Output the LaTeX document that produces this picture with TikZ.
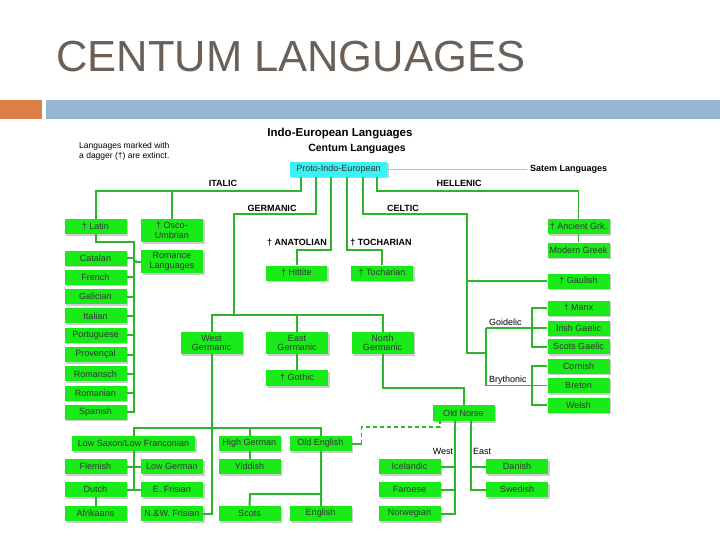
\documentclass[tikz,border=0pt]{standalone}
\usepackage{fontspec}
\setmainfont{Liberation Sans}
\usetikzlibrary{shadows,arrows.meta}
\definecolor{titlegray}{RGB}{107,96,88}
\definecolor{barorange}{RGB}{221,128,71}
\definecolor{barblue}{RGB}{148,182,210}
\definecolor{langgreen}{RGB}{25,235,25}
\definecolor{linkgreen}{RGB}{45,180,45}
\definecolor{piecyan}{RGB}{60,240,245}
\definecolor{satemline}{RGB}{240,200,20}

\begin{document}
\begin{tikzpicture}[x=1pt,y=-1pt,>=stealth,
  lang/.style={fill=langgreen,minimum width=62pt,minimum height=15pt,inner sep=1pt,
    align=center,font=\fontsize{9}{9.5}\selectfont,text=black!80,
    drop shadow={shadow xshift=1.5pt,shadow yshift=-1.5pt,fill=black!40}},
  pienode/.style={lang,fill=piecyan,minimum width=97pt},
  famlabel/.style={inner sep=0pt,font=\bfseries\fontsize{9}{9}\selectfont},
  sublabel/.style={inner sep=0pt,font=\fontsize{9}{9}\selectfont},
  link/.style={draw=linkgreen,line width=2pt},
  thinlink/.style={draw=linkgreen,line width=1.1pt}]
\useasboundingbox (0,0) rectangle (720,540);
\fill[barorange] (0,100) rectangle (42,119);
\fill[barblue] (46,100) rectangle (720,119);
\node[anchor=base west,inner sep=0pt,text=titlegray,font=\fontsize{43.5}{44}\selectfont] (title) at (56,72) {CENTUM LANGUAGES};

\node[font=\bfseries\fontsize{11.5}{12}\selectfont,inner sep=0pt] (iehead) at (340,134) {Indo-European Languages};
\node[font=\bfseries\fontsize{10.5}{11}\selectfont,inner sep=0pt] (cthead) at (357,149) {Centum Languages};
\node[anchor=north west,inner sep=0pt,align=left,font=\fontsize{8.5}{10}\selectfont] (note) at (79,142) {Languages marked with\\a dagger (†) are extinct.};

\node[pienode] (pie) at (338.5,169.5) {Proto-Indo-European};
\node[anchor=west,inner sep=0pt,font=\bfseries\fontsize{9}{9}\selectfont] (satem) at (530,169.5) {Satem Languages};
\draw[draw=satemline,line width=1.3pt] (pie.east) -- ([xshift=-3pt]pie.east -| satem.west);

\coordinate (italbend) at (301,191);
\coordinate (germbend) at (316,214);
\coordinate (germdrop) at (234,315);
\coordinate (anatbend) at (331,250);
\coordinate (tochbend) at (347,250);
\coordinate (celtbend) at (363,214);
\coordinate (celtdrop) at (467,353);
\coordinate (celtsplit) at (486,353);
\coordinate (hellbend) at (377,191);
\coordinate (latbus) at (134,242);
\coordinate (wgbus) at (211,428);
\coordinate (scotsbend) at (250,494);
\coordinate (nordlink) at (440,427);
\coordinate (nwest) at (455,421);
\coordinate (neast) at (471,421);

\node[famlabel] (italiclbl) at (223,183) {ITALIC};
\node[famlabel] (germlbl) at (272,208) {GERMANIC};
\node[famlabel] (celtlbl) at (403,208) {CELTIC};
\node[famlabel] (helllbl) at (459,183) {HELLENIC};
\node[famlabel] (anatlbl) at (297,243) {† ANATOLIAN};
\node[famlabel] (tochlbl) at (381,243) {† TOCHARIAN};
\node[sublabel,anchor=west] (goidlbl) at (489,322) {Goidelic};
\node[sublabel,anchor=west] (brytlbl) at (489,380) {Brythonic};
\node[sublabel] (westlbl) at (443,451) {West};
\node[sublabel] (eastlbl) at (482,451) {East};

\node[lang] (latin) at (95.5,226.5) {† Latin};
\node[lang,minimum height=23pt] (osco) at (172,230.5) {† Osco-\\Umbrian};
\node[lang,minimum height=23pt] (romance) at (172,261.5) {Romance\\Languages};
\foreach \nm/\txt [count=\i from 0] in {catalan/Catalan,french/French,galician/Galician,
    italian/Italian,portug/Portuguese,provencal/Provençal,romansch/Romansch,
    romanian/Romanian,spanish/Spanish}
  \node[lang] (\nm) at (95.5,258+19.3*\i) {\txt};

\node[lang,minimum width=61pt,inner sep=0pt] (hittite) at (296.5,273) {† Hittite};
\node[lang] (tochar) at (382,273) {† Tocharian};

\node[lang,minimum height=22pt] (westg) at (211.5,343) {West\\Germanic};
\node[lang,minimum height=22pt] (eastg) at (297,343) {East\\Germanic};
\node[lang,minimum height=22pt] (northg) at (382.5,343) {North\\Germanic};
\node[lang,minimum height=16pt] (gothic) at (297,378) {† Gothic};
\node[lang,minimum height=16pt] (oldnorse) at (463.5,413) {Old Norse};

\node[lang] (ancgrk) at (578.5,226.5) {† Ancient Grk.};
\node[lang] (modgrk) at (578.5,250) {Modern Greek};
\node[lang] (gaulish) at (578.5,281) {† Gaulish};
\node[lang] (manx) at (578.5,308) {† Manx};
\node[lang] (irish) at (578.5,328) {Irish Gaelic};
\node[lang] (scotsg) at (578.5,346.5) {Scots Gaelic};
\node[lang] (cornish) at (578.5,366) {Cornish};
\node[lang] (breton) at (578.5,385.5) {Breton};
\node[lang] (welsh) at (578.5,405) {Welsh};

\node[lang,minimum width=123pt] (lowsax) at (133.5,443.5) {Low Saxon/Low Franconian};
\node[lang] (higherm) at (249.5,443.5) {High German};
\node[lang] (oldeng) at (320.5,443.5) {Old English};
\node[lang] (flemish) at (95.5,466.5) {Flemish};
\node[lang] (lowgerm) at (172,466.5) {Low German};
\node[lang] (yiddish) at (249.5,466.5) {Yiddish};
\node[lang] (dutch) at (95.5,489.5) {Dutch};
\node[lang] (efris) at (172,489.5) {E. Frisian};
\node[lang] (afrik) at (95.5,513.5) {Afrikaans};
\node[lang] (nwfris) at (172,513.5) {N.\&W. Frisian};
\node[lang] (scots) at (249.5,513.5) {Scots};
\node[lang] (english) at (320.5,513.5) {English};
\node[lang] (icel) at (409.5,466.5) {Icelandic};
\node[lang] (faroe) at (409.5,489.5) {Faroese};
\node[lang] (norweg) at (409.5,513.5) {Norwegian};
\node[lang] (danish) at (517,466.5) {Danish};
\node[lang] (swed) at (517,489.5) {Swedish};

\draw[link] (pie.south -| italbend) -- (italbend) -| (latin.north);
\draw[link] (osco.north) -- (osco.north |- italbend);
\draw[link] (latin.south) |- (latbus) |- (spanish.east);
\foreach \nm in {catalan,french,galician,italian,portug,provencal,romansch,romanian}
  \draw[link] (\nm.east) -- (\nm.east -| latbus);
\draw[link,-{Stealth[length=3pt,width=4pt]}] (romance.west) -- (romance.west -| latbus);

\draw[link] (pie.south -| germbend) -- (germbend) -| (germdrop);
\draw[link] (westg.north) |- (germdrop) -| (northg.north);
\draw[link] (eastg.north) -- (eastg.north |- germdrop);
\draw[link] (eastg.south) -- (gothic.north);
\draw[link] (northg.south) -- ++(0,34) -| (oldnorse.north);

\draw[link] (pie.south -| anatbend) -- (anatbend) -| (hittite.north);
\draw[link] (pie.south -| tochbend) -- (tochbend) -| (tochar.north);

\draw[link] (pie.south -| celtbend) -- (celtbend) -| (celtdrop) -- (celtsplit);
\draw[link] (gaulish.west) -- (gaulish.west -| celtdrop);
\draw[thinlink] (celtsplit |- irish.west) -- (celtsplit |- breton.west);
\draw[thinlink] (celtsplit |- irish.west) -- (irish.west);
\draw[thinlink] (celtsplit |- breton.west) -- (breton.west);
\draw[link] (manx.west) -- ++(-15,0) |- (scotsg.west);
\draw[link] (cornish.west) -- ++(-15,0) |- (welsh.west);

\draw[thinlink] (pie.south -| hellbend) -- (hellbend) -| (ancgrk.north);
\draw[thinlink] (ancgrk.south) -- (modgrk.north);

\draw[link] (westg.south) |- (nwfris.east);
\draw[link] (lowsax.north) |- (wgbus) -| (oldeng.north);
\draw[link] (higherm.north) -- (higherm.north |- wgbus);
\draw[link] (lowsax.south) -- (lowsax.south |- efris.west);
\draw[link] (flemish.east) -- (lowgerm.west);
\draw[link] (dutch.east) -- (efris.west);
\draw[link] (dutch.south) -- (afrik.north);
\draw[link] (higherm.south) -- (yiddish.north);
\draw[link] (oldeng.south) -- (english.north);
\draw[link] (scots.north) -- (scotsbend) -- (scotsbend -| oldeng.south);
\draw[link] (oldeng.east) -- ++(10,0) coordinate (oedash);
\draw[link,line width=1.3pt,dash pattern=on 4pt off 3pt] (oedash) |- (nordlink) -- (nordlink |- oldnorse.south);

\draw[link] (nwest) |- (norweg.east);
\draw[link] (icel.east) -- (icel.east -| nwest);
\draw[link] (faroe.east) -- (faroe.east -| nwest);
\draw[link] (neast) |- (swed.west);
\draw[link] (danish.west) -- (danish.west -| neast);
\end{tikzpicture}
\end{document}
